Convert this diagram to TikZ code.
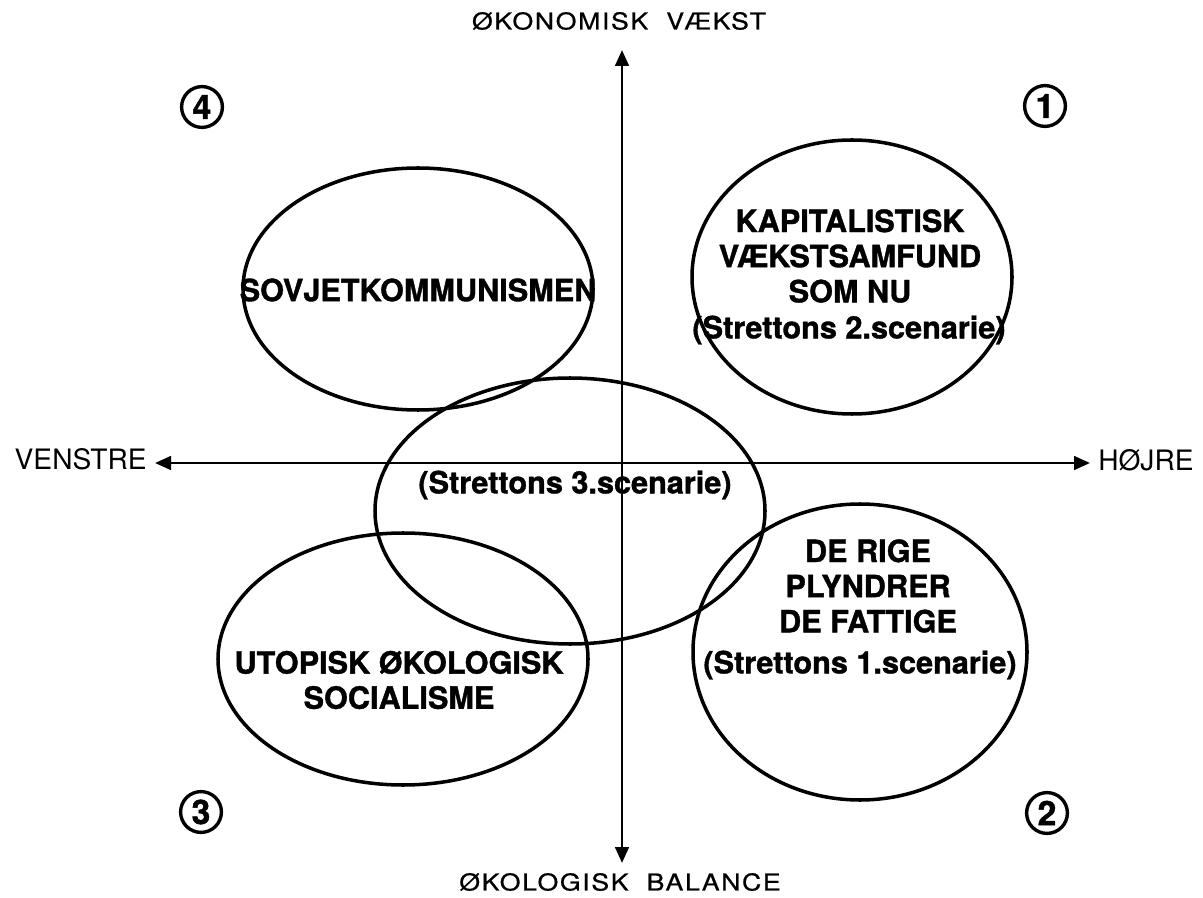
\documentclass[tikz,border=0pt]{standalone}
\usepackage{fontspec}
\setmainfont[BoldFeatures={FakeBold=1.2}]{TeX Gyre Heros}
\newfontfamily\axisfont[FakeStretch=1.15,LetterSpace=7,FakeBold=0.8]{TeX Gyre Heros}
\usetikzlibrary{arrows.meta}

\tikzset{
  axis/.style={line width=2pt, {Triangle[length=0.4cm,width=0.34cm]}-{Triangle[length=0.4cm,width=0.34cm]}},
  blob/.style={line width=2.5pt},
  label/.style={font=\fontsize{21.8}{25}\selectfont\bfseries, align=center, inner sep=0pt},
  axislabel/.style={font=\fontsize{16.5}{18}\selectfont\axisfont, inner sep=0pt},
  sidelabel/.style={font=\fontsize{20}{22}\selectfont, inner sep=0pt},
  quadrant/.style={circle, draw, line width=2.4pt, minimum size=1.02cm, inner sep=0pt,
    font=\fontsize{24}{26}\selectfont\bfseries}
}

\begin{document}
\begin{tikzpicture}[x=0.025cm, y=-0.025cm]
\useasboundingbox (0,0) rectangle (1203,898);

% Axes
\coordinate (top) at (622,50);
\coordinate (bot) at (622,863);
\coordinate (left) at (155,463);
\coordinate (right) at (1090,463);
\draw[axis] (top) -- (bot);
\draw[axis] (left) -- (right);

% Axis labels
\node[axislabel] (growth) at (619,21) {ØKONOMISK\ \ VÆKST};
\node[axislabel] (balance) at (620,882) {ØKOLOGISK\ \ BALANCE};
\node[sidelabel, anchor=east] (venstre) at (147,459) {VENSTRE};
\node[sidelabel, anchor=west] (hojre) at (1098,460) {HØJRE};

% Quadrant numbers
\node[quadrant] (q4) at (202,107) {4};
\node[quadrant] (q1) at (1045,106) {1};
\node[quadrant] (q3) at (201,812) {3};
\node[quadrant] (q2) at (1047,813) {2};

% Ellipses
\draw[blob] (418,289) ellipse [x radius=175, y radius=121];
\draw[blob] (852,277) ellipse [x radius=160, y radius=137];
\draw[blob] (570,511) ellipse [x radius=195, y radius=133];
\draw[blob] (403,659) ellipse [x radius=185, y radius=126];
\draw[blob] (860,652) ellipse [x radius=167, y radius=148];

% Scenario texts
\node[label] (sovjet) at (418,290) {SOVJETKOMMUNISMEN};
\node[label] (kapital) at (850,256) {KAPITALISTISK\\VÆKSTSAMFUND\\SOM NU};
\node[label] (s2) at (849,330) {(Strettons 2.scenarie)};
\node[label] (s3) at (575,485) {(Strettons 3.scenarie)};
\node[label] (rige) at (868,586) {DE RIGE\\PLYNDRER\\DE FATTIGE};
\node[label] (s1) at (860,665) {(Strettons 1.scenarie)};
\node[label] (utopisk) at (399,680) {UTOPISK ØKOLOGISK\\SOCIALISME};
\end{tikzpicture}
\end{document}
